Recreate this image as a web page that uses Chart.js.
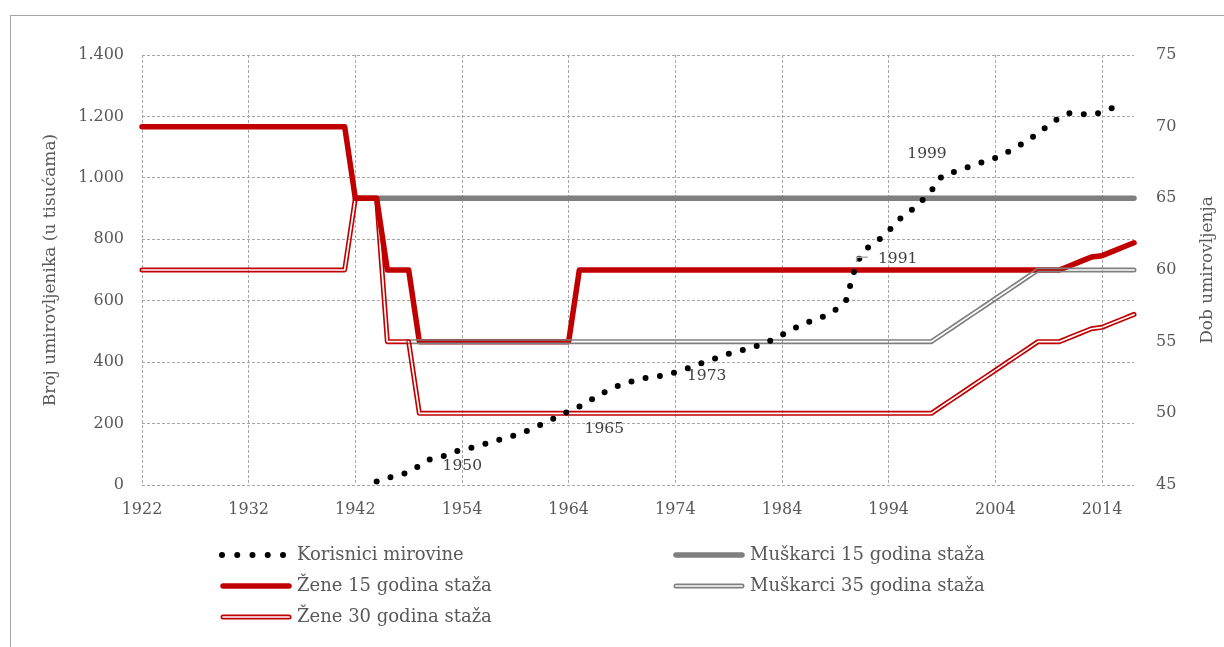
<!DOCTYPE html>
<html>
<head>
<meta charset="utf-8">
<script src="https://cdn.jsdelivr.net/npm/chart.js@4.4.1/dist/chart.umd.min.js"></script>
<style>
  html, body { margin: 0; padding: 0; background: #fff; }
  canvas { display: block; }
</style>
</head>
<body>
<canvas id="myChart" width="1224" height="647"></canvas>
<script>
// categories (1943 and 1944 are not in the source table)
let years = [
  1922, 1923, 1924, 1925, 1926, 1927, 1928, 1929, 1930, 1931,
  1932, 1933, 1934, 1935, 1936, 1937, 1938, 1939, 1940, 1941,
  1942, 1945, 1946, 1947, 1948, 1949, 1950, 1951, 1952, 1953,
  1954, 1955, 1956, 1957, 1958, 1959, 1960, 1961, 1962, 1963,
  1964, 1965, 1966, 1967, 1968, 1969, 1970, 1971, 1972, 1973,
  1974, 1975, 1976, 1977, 1978, 1979, 1980, 1981, 1982, 1983,
  1984, 1985, 1986, 1987, 1988, 1989, 1990, 1991, 1992, 1993,
  1994, 1995, 1996, 1997, 1998, 1999, 2000, 2001, 2002, 2003,
  2004, 2005, 2006, 2007, 2008, 2009, 2010, 2011, 2012, 2013,
  2014, 2015, 2016, 2017
];

// pensioners in thousands, 1946 - 2016
let korisniciStart = 1946;
let korisnici = [
  11, 23, 31, 42, 63, 84, 90, 104, 116, 122,
  132, 142, 153, 162, 175, 190, 206, 223, 240, 255,
  275, 296, 313, 329, 338, 347, 353, 357, 367, 378,
  391, 404, 415, 427, 437, 445, 457, 471, 489, 508,
  523, 539, 550, 570, 600, 725, 772, 796, 827, 865,
  891, 921, 958, 1006, 1018, 1030, 1042, 1053, 1065, 1081,
  1100, 1121, 1145, 1172, 1196, 1211, 1208, 1205, 1214, 1228,
  1232
];

// retirement age, one value per category
let zene15 = [
  70, 70, 70, 70, 70, 70, 70, 70, 70, 70,
  70, 70, 70, 70, 70, 70, 70, 70, 70, 70,
  65, 65, 65, 60, 60, 60, 55, 55, 55, 55,
  55, 55, 55, 55, 55, 55, 55, 55, 55, 55,
  55, 60, 60, 60, 60, 60, 60, 60, 60, 60,
  60, 60, 60, 60, 60, 60, 60, 60, 60, 60,
  60, 60, 60, 60, 60, 60, 60, 60, 60, 60,
  60, 60, 60, 60, 60, 60, 60, 60, 60, 60,
  60, 60, 60, 60, 60, 60, 60, 60.3, 60.6, 60.9,
  61, 61.3, 61.6, 61.9
];
let zene30 = [
  60, 60, 60, 60, 60, 60, 60, 60, 60, 60,
  60, 60, 60, 60, 60, 60, 60, 60, 60, 60,
  65, 65, 65, 55, 55, 55, 50, 50, 50, 50,
  50, 50, 50, 50, 50, 50, 50, 50, 50, 50,
  50, 50, 50, 50, 50, 50, 50, 50, 50, 50,
  50, 50, 50, 50, 50, 50, 50, 50, 50, 50,
  50, 50, 50, 50, 50, 50, 50, 50, 50, 50,
  50, 50, 50, 50, 50, 50.5, 51, 51.5, 52, 52.5,
  53, 53.5, 54, 54.5, 55, 55, 55, 55.3, 55.6, 55.9,
  56, 56.3, 56.6, 56.9
];
let muskarci15 = [
  null, null, null, null, null, null, null, null, null, null,
  null, null, null, null, null, null, null, null, null, null,
  65, 65, 65, 65, 65, 65, 65, 65, 65, 65,
  65, 65, 65, 65, 65, 65, 65, 65, 65, 65,
  65, 65, 65, 65, 65, 65, 65, 65, 65, 65,
  65, 65, 65, 65, 65, 65, 65, 65, 65, 65,
  65, 65, 65, 65, 65, 65, 65, 65, 65, 65,
  65, 65, 65, 65, 65, 65, 65, 65, 65, 65,
  65, 65, 65, 65, 65, 65, 65, 65, 65, 65,
  65, 65, 65, 65
];
let muskarci35 = [
  null, null, null, null, null, null, null, null, null, null,
  null, null, null, null, null, null, null, null, null, null,
  null, null, null, null, null, 55, 55, 55, 55, 55,
  55, 55, 55, 55, 55, 55, 55, 55, 55, 55,
  55, 55, 55, 55, 55, 55, 55, 55, 55, 55,
  55, 55, 55, 55, 55, 55, 55, 55, 55, 55,
  55, 55, 55, 55, 55, 55, 55, 55, 55, 55,
  55, 55, 55, 55, 55, 55.5, 56, 56.5, 57, 57.5,
  58, 58.5, 59, 59.5, 60, 60, 60, 60, 60, 60,
  60, 60, 60, 60
];

// years written next to the pensioner line
let labelledYears = [1950, 1965, 1973, 1991, 1999];

const RED = '#c00000';
const GRAY = '#7f7f7f';
const GRID = '#a6a6a6';
const TEXT = '#595959';
const FONT = "'DejaVu Serif', serif";

Chart.defaults.font.family = FONT;
Chart.defaults.color = TEXT;

function tracePoints(c, pts) {
  c.beginPath();
  let pen = false;
  pts.forEach(p => {
    if (p.skip) { pen = false; return; }
    if (pen) c.lineTo(p.x, p.y); else { c.moveTo(p.x, p.y); pen = true; }
  });
}

// excel style double line: two thin strokes with a see-through gap
function strokeDouble(target, trace, color) {
  let off = document.createElement('canvas');
  off.width = target.canvas.width;
  off.height = target.canvas.height;
  let o = off.getContext('2d');
  o.setTransform(target.getTransform());
  o.lineJoin = 'round';
  o.lineCap = 'round';
  trace(o);
  o.strokeStyle = color;
  o.lineWidth = 5;
  o.stroke();
  o.globalCompositeOperation = 'destination-out';
  o.lineWidth = 1.7;
  o.stroke();
  target.save();
  target.setTransform(1, 0, 0, 1, 0, 0);
  target.drawImage(off, 0, 0);
  target.restore();
}

let labelOffsets = { 1950: [43, 0], 1965: [25, 22], 1973: [42, 1], 1991: [41, -3], 1999: [-15, -22] };
let legendSpots = [[220, 555], [673, 555], [220, 586], [673, 586], [220, 617]];

const decor = {
  id: 'decor',
  beforeDraw(chart) {
    let c = chart.ctx;
    c.save();
    c.strokeStyle = GRID;
    c.lineWidth = 1;
    c.strokeRect(10.5, 15.5, 1400, 800);
    c.restore();
  },
  beforeDatasetDraw(chart, args) {
    let ds = chart.data.datasets[args.index];
    if (!ds.double) return;
    strokeDouble(chart.ctx, o => tracePoints(o, args.meta.data), ds.borderColor);
    return false;
  },
  afterDatasetsDraw(chart) {
    let c = chart.ctx;
    let meta = chart.getDatasetMeta(0);
    c.save();
    c.font = '15.5px ' + FONT;
    c.fillStyle = '#404040';
    c.textAlign = 'center';
    c.textBaseline = 'middle';
    labelledYears.forEach(yr => {
      let p = meta.data[years.indexOf(yr)];
      if (!p) return;
      let [dx, dy] = labelOffsets[yr];
      if (yr === 1991) {
        c.strokeStyle = '#a6a6a6';
        c.lineWidth = 1.5;
        c.beginPath();
        c.moveTo(p.x, p.y);
        c.lineTo(p.x, p.y - 5);
        c.lineTo(p.x + 11, p.y - 5);
        c.stroke();
      }
      c.fillText(String(yr), p.x + dx, p.y + dy);
    });
    c.restore();
  },
  afterDraw(chart) {
    let c = chart.ctx;
    let area = chart.chartArea;
    c.save();
    // right axis title, reading upwards like the left one
    c.font = '17px ' + FONT;
    c.fillStyle = TEXT;
    c.textAlign = 'center';
    c.textBaseline = 'middle';
    c.translate(1208, (area.top + area.bottom) / 2);
    c.rotate(-Math.PI / 2);
    c.fillText('Dob umirovljenja', 0, 0);
    c.restore();

    // legend in two columns
    chart.data.datasets.forEach((ds, i) => {
      let [x, y] = legendSpots[i];
      if (ds.double) {
        strokeDouble(c, o => { o.beginPath(); o.moveTo(x + 3, y); o.lineTo(x + 69, y); }, ds.borderColor);
      } else {
        c.save();
        c.beginPath();
        if (ds.borderDash) {
          c.moveTo(x + 2, y);
          c.lineTo(x + 63.5, y);
          c.setLineDash([0, 15.25]);
        } else {
          c.moveTo(x + 3, y);
          c.lineTo(x + 69, y);
        }
        c.lineCap = 'round';
        c.lineWidth = ds.borderWidth;
        c.strokeStyle = ds.borderColor;
        c.stroke();
        c.restore();
      }
      c.save();
      c.font = '18px ' + FONT;
      c.fillStyle = TEXT;
      c.textAlign = 'left';
      c.textBaseline = 'middle';
      c.fillText(ds.label, x + 77, y);
      c.restore();
    });
  }
};

let padStart = years.indexOf(korisniciStart);
let korisniciData = new Array(padStart).fill(null).concat(korisnici);

let lineBase = { pointRadius: 0, pointHoverRadius: 0, tension: 0, fill: false,
  borderJoinStyle: 'round', borderCapStyle: 'round', clip: false, yAxisID: 'y1' };

let ctx = document.getElementById('myChart').getContext('2d');
let myChart = new Chart(ctx, {
  type: 'line',
  data: {
    labels: years,
    datasets: [
      Object.assign({}, lineBase, { label: 'Korisnici mirovine', data: korisniciData, yAxisID: 'y',
        borderColor: '#000000', borderWidth: 6, borderDash: [0, 14.5], order: 0 }),
      Object.assign({}, lineBase, { label: 'Muškarci 15 godina staža', data: muskarci15,
        borderColor: GRAY, borderWidth: 5.5, order: 4 }),
      Object.assign({}, lineBase, { label: 'Žene 15 godina staža', data: zene15,
        borderColor: RED, borderWidth: 5.5, order: 3 }),
      Object.assign({}, lineBase, { label: 'Muškarci 35 godina staža', data: muskarci35,
        borderColor: GRAY, borderWidth: 5, double: true, order: 2 }),
      Object.assign({}, lineBase, { label: 'Žene 30 godina staža', data: zene30,
        borderColor: RED, borderWidth: 5, double: true, order: 1 })
    ]
  },
  options: {
    responsive: false,
    animation: false,
    events: [],
    layout: { padding: { top: 55, left: 0, right: 0, bottom: 122 } },
    plugins: {
      legend: { display: false },
      tooltip: { enabled: false }
    },
    scales: {
      x: {
        type: 'category',
        offset: false,
        afterFit: (s) => { s.height = 40; },
        grid: {
          color: (c) => (c.index % 10 === 0 ? GRID : 'rgba(0,0,0,0)'),
          drawTicks: false,
          borderDash: [3, 2]
        },
        border: { display: false, dash: [3, 2] },
        ticks: {
          autoSkip: false,
          maxRotation: 0,
          padding: 15,
          font: { size: 16 },
          color: TEXT,
          callback: function (value, index) {
            return index % 10 === 0 ? this.getLabelForValue(value) : '';
          }
        }
      },
      y: {
        position: 'left',
        min: 0,
        max: 1400,
        afterFit: (s) => { s.width = 142; },
        grid: { color: GRID, drawTicks: false, borderDash: [3, 2] },
        border: { display: false, dash: [3, 2] },
        ticks: {
          stepSize: 200,
          padding: 18,
          font: { size: 16 },
          color: TEXT,
          callback: (v) => String(v).replace(/\B(?=(\d{3})+(?!\d))/g, '.')
        },
        title: {
          display: true,
          text: 'Broj umirovljenika (u tisućama)',
          color: TEXT,
          font: { size: 17 },
          padding: { top: 40, bottom: 0 }
        }
      },
      y1: {
        position: 'right',
        min: 45,
        max: 75,
        afterFit: (s) => { s.width = 90; },
        grid: { display: false, drawTicks: false },
        border: { display: false },
        ticks: { stepSize: 5, padding: 22, font: { size: 16 }, color: TEXT }
      }
    }
  },
  plugins: [decor]
});
</script>
</body>
</html>
